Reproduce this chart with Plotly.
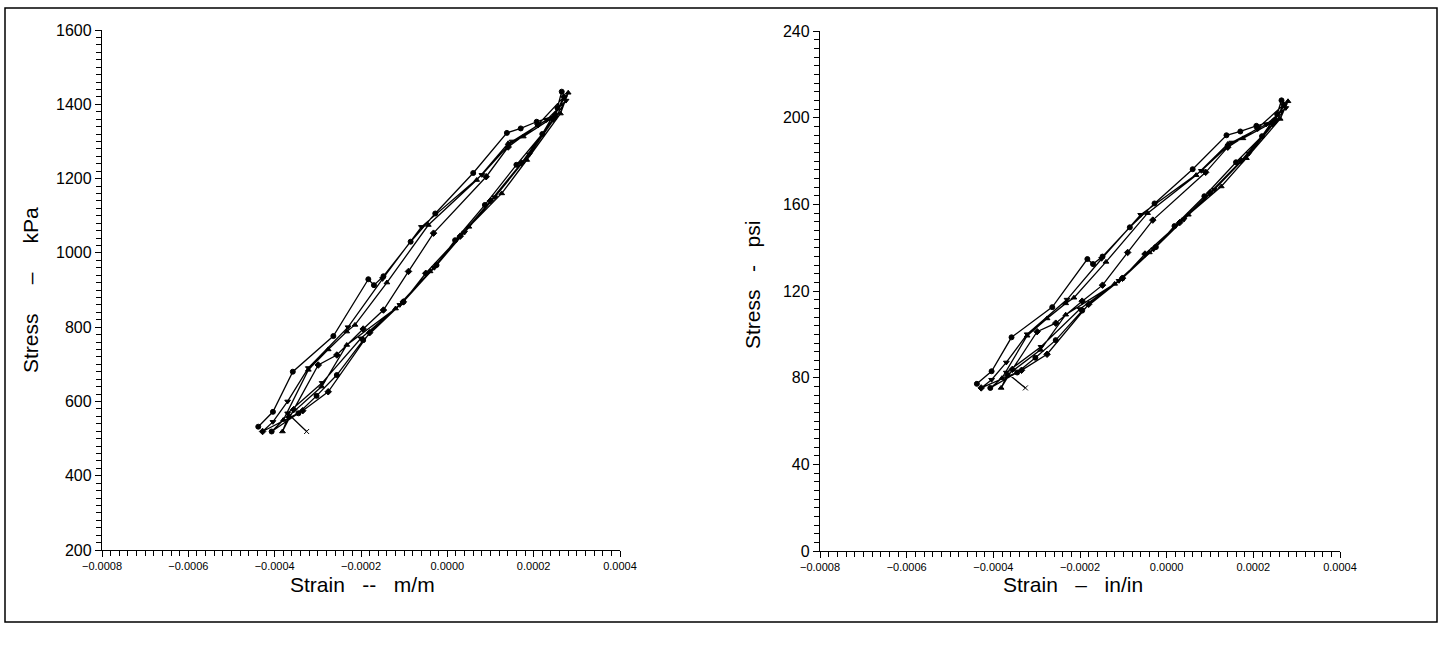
import plotly.graph_objects as go

# ---- data (strain in m/m, stress in kPa) ----
strain = [
    # cycle 1 up
    -0.000438, -0.000404, -0.000358, -0.000264, -0.000183, -0.000170, -0.000148, -0.000085,
    -0.000028, 0.000060, 0.000138, 0.000170, 0.000207, 0.000250, 0.000265,
    # cycle 1 down
    0.000255, 0.000220, 0.000160, 0.000087, 0.000018, -0.000025, -0.000102, -0.000195,
    -0.000256, -0.000303, -0.000345, -0.000407,
    # cycle 2 up
    -0.000380, -0.000322, -0.000276, -0.000233, -0.000214, -0.000140, -0.000044, 0.000068,
    0.000141, 0.000176, 0.000242, 0.000280,
    # cycle 2 down
    0.000262, 0.000184, 0.000126, 0.000050, -0.000040, -0.000120, -0.000233, -0.000291,
    -0.000368, -0.000382,
    # cycle 3 up
    -0.000356, -0.000299, -0.000256, -0.000195, -0.000148, -0.000090, -0.000032, 0.000090,
    0.000141, 0.000210, 0.000270,
    # cycle 3 down
    0.000245, 0.000172, 0.000100, 0.000030, -0.000050, -0.000102, -0.000180, -0.000276,
    -0.000335, -0.000428,
    # cycle 4 up
    -0.000404, -0.000370, -0.000322, -0.000230, -0.000150, -0.000060, 0.000080, 0.000150,
    0.000230, 0.000275,
    # cycle 4 down
    0.000250, 0.000190, 0.000110, 0.000040, -0.000030, -0.000110, -0.000200, -0.000290,
    -0.000370, -0.000326,
]

stress_kpa = [
    532, 572, 680, 776, 929, 913, 937, 1030,
    1106, 1215, 1323, 1335, 1353, 1370, 1434,
    1390, 1320, 1237, 1129, 1034, 967, 868, 765,
    671, 615, 568, 519,
    550, 685, 740, 788, 806, 920, 1075, 1196,
    1295, 1313, 1362, 1431,
    1375, 1250, 1160, 1070, 950, 850, 752, 640,
    560, 519,
    578, 698, 725, 795, 846, 950, 1053, 1205,
    1285, 1345, 1420,
    1360, 1242, 1140, 1045, 945, 868, 785, 626,
    575, 519,
    545, 600, 690, 800, 930, 1070, 1210, 1300,
    1358, 1410,
    1365, 1265, 1150, 1055, 960, 860, 770, 650,
    568, 519,
]

cycle_sizes = [27, 22, 21, 20]
cycle_symbols = ["circle", "triangle-up", "diamond", "triangle-down"]

KPA_PER_PSI = 6.894757
stress_psi = [v / KPA_PER_PSI for v in stress_kpa]

x_tick_vals = [-0.0008, -0.0006, -0.0004, -0.0002, 0.0, 0.0002, 0.0004]
y_ticks_kpa = [200, 400, 600, 800, 1000, 1200, 1400, 1600]
y_ticks_psi = [0, 40, 80, 120, 160, 200, 240]
MINOR_PER_MAJOR = 10


def minor_positions(majors):
    out = []
    for a, b in zip(majors[:-1], majors[1:]):
        step = (b - a) / MINOR_PER_MAJOR
        out += [a + k * step for k in range(1, MINOR_PER_MAJOR)]
    return out


symbols = []
for n, s in zip(cycle_sizes, cycle_symbols):
    symbols += [s] * n
symbols[-1] = "x-thin"

W, H = 1443, 649
NB = "\u00a0"

fig = go.Figure()
# invisible carriers so the minor-tick axes are drawn (added first, underneath)
for xa, ya, yvals in (("x3", "y3", stress_kpa), ("x4", "y4", stress_psi)):
    fig.add_trace(go.Scatter(
        x=strain, y=yvals, mode="markers", marker=dict(opacity=0, size=1),
        xaxis=xa, yaxis=ya, showlegend=False, hoverinfo="skip",
    ))
for xa, ya, yvals in (("x", "y", stress_kpa), ("x2", "y2", stress_psi)):
    fig.add_trace(go.Scatter(
        x=strain, y=yvals, mode="lines+markers",
        line=dict(color="black", width=1.3),
        marker=dict(size=5, color="black", symbol=symbols,
                    line=dict(color="black", width=1)),
        xaxis=xa, yaxis=ya, showlegend=False, hoverinfo="x+y",
    ))

common = dict(
    showline=True, linecolor="black", linewidth=1.4,
    ticks="outside", ticklen=6, tickwidth=1.2, tickcolor="black",
    showgrid=False, zeroline=False, mirror=False, automargin=False,
)
minor_common = dict(
    showline=False, showgrid=False, zeroline=False, showticklabels=False,
    ticks="outside", ticklen=5, tickwidth=1, tickcolor="black", automargin=False,
)

xcommon = dict(common, range=[x_tick_vals[0], x_tick_vals[-1]], tickvals=x_tick_vals,
               tickformat=".4f", tickfont=dict(family="Liberation Sans", size=11, color="black"))

yfont = dict(family="Liberation Sans", size=16, color="black")
title_font = dict(family="Liberation Sans", size=21, color="black")

xd1 = [102 / W, 620 / W]
yd1 = [1 - 550 / H, 1 - 30 / H]
xd2 = [820 / W, 1340 / W]
yd2 = [1 - 551 / H, 1 - 31 / H]

fig.update_layout(
    width=W, height=H, autosize=False,
    margin=dict(l=0, r=0, t=0, b=0, pad=0, autoexpand=False),
    showlegend=False,
    paper_bgcolor="white", plot_bgcolor="rgba(0,0,0,0)",
    font=dict(family="Liberation Sans", color="black"),
    xaxis=dict(xcommon, domain=xd1, anchor="y"),
    yaxis=dict(common, domain=yd1, anchor="x",
               range=[y_ticks_kpa[0], y_ticks_kpa[-1]], tickvals=y_ticks_kpa, tickfont=yfont),
    xaxis2=dict(xcommon, domain=xd2, anchor="y2"),
    yaxis2=dict(common, domain=yd2, anchor="x2",
                range=[y_ticks_psi[0], y_ticks_psi[-1]], tickvals=y_ticks_psi, tickfont=yfont),
    # minor tick axes (same placement as the main axes)
    xaxis3=dict(minor_common, domain=xd1, anchor="y3", side="bottom",
                range=[x_tick_vals[0], x_tick_vals[-1]], tickvals=minor_positions(x_tick_vals)),
    yaxis3=dict(minor_common, domain=yd1, anchor="x3", side="left",
                range=[y_ticks_kpa[0], y_ticks_kpa[-1]], tickvals=minor_positions(y_ticks_kpa)),
    xaxis4=dict(minor_common, domain=xd2, anchor="y4", side="bottom",
                range=[x_tick_vals[0], x_tick_vals[-1]], tickvals=minor_positions(x_tick_vals)),
    yaxis4=dict(minor_common, domain=yd2, anchor="x4", side="left",
                range=[y_ticks_psi[0], y_ticks_psi[-1]], tickvals=minor_positions(y_ticks_psi)),
    shapes=[dict(type="rect", xref="paper", yref="paper",
                 x0=5 / W, x1=1437 / W, y0=1 - 622 / H, y1=1 - 8 / H,
                 line=dict(color="black", width=1.5))],
    annotations=[
        dict(text=f"Stress{NB*5}–{NB*5}kPa", xref="paper", yref="paper",
             x=30 / W, y=1 - 290 / H, xanchor="center", yanchor="middle",
             textangle=-90, showarrow=False, font=title_font),
        dict(text=f"Strain{NB*3}--{NB*3}m/m", xref="paper", yref="paper",
             x=362 / W, y=1 - 584 / H, xanchor="center", yanchor="middle",
             showarrow=False, font=title_font),
        dict(text=f"Stress{NB*3}-{NB*3}psi", xref="paper", yref="paper",
             x=752 / W, y=1 - 285 / H, xanchor="center", yanchor="middle",
             textangle=-90, showarrow=False, font=title_font),
        dict(text=f"Strain{NB*3}–{NB*3}in/in", xref="paper", yref="paper",
             x=1073 / W, y=1 - 584 / H, xanchor="center", yanchor="middle",
             showarrow=False, font=title_font),
    ],
)

fig.write_html("out.html", config={"displayModeBar": False},
               post_script="document.body.style.margin='0';")
